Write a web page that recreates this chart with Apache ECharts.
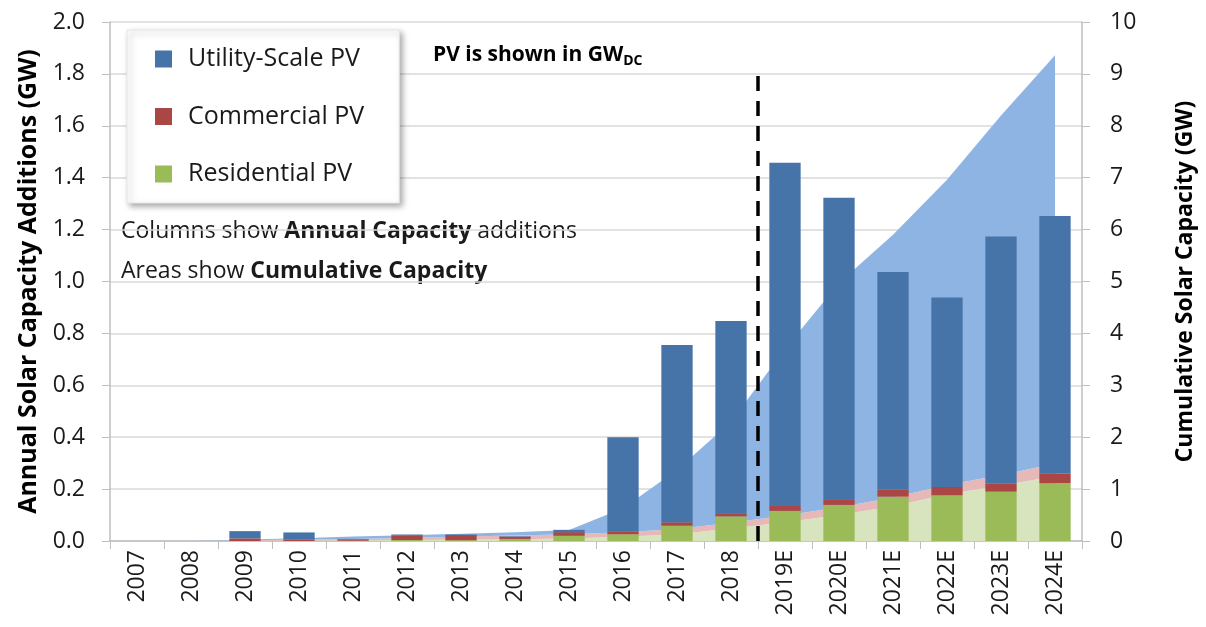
<!DOCTYPE html>
<html lang="en">
<head>
    <meta charset="UTF-8">
    <script src="https://cdn.jsdelivr.net/npm/echarts@6/dist/echarts.min.js"></script>
    <style type="text/css">
        html, body, #main {
            height: 100%;
            width: 100%;
            margin: 0;
            padding: 0;
            background: #fff;
        }
    </style>
    <title>Solar capacity</title>
</head>
<body>
<div id="main"></div>
<script>
    // categories
    var years = ['2007', '2008', '2009', '2010', '2011', '2012', '2013', '2014', '2015',
        '2016', '2017', '2018', '2019E', '2020E', '2021E', '2022E', '2023E', '2024E'];

    // annual additions (GW, left axis)
    var utilAdd = [0, 0, 0.028, 0.028, 0.002, 0.003, 0.002, 0.002, 0.009,
        0.364, 0.683, 0.741, 1.323, 1.162, 0.838, 0.73, 0.951, 0.991];
    var commAdd = [0, 0, 0.01, 0.005, 0.005, 0.018, 0.02, 0.008, 0.014,
        0.01, 0.013, 0.012, 0.019, 0.022, 0.028, 0.032, 0.032, 0.039];
    var resAdd = [0, 0, 0, 0, 0.001, 0.004, 0.003, 0.008, 0.02,
        0.026, 0.059, 0.095, 0.116, 0.139, 0.171, 0.176, 0.19, 0.222];

    // cumulative capacity (GW, right axis), stacked layers
    var resCum = [0, 0, 0.005, 0.01, 0.015, 0.02, 0.025, 0.035, 0.05,
        0.08, 0.13, 0.24, 0.36, 0.5, 0.67, 0.9, 1.07, 1.25];
    var commCum = [0, 0, 0.01, 0.02, 0.025, 0.04, 0.06, 0.07, 0.08,
        0.09, 0.1, 0.11, 0.13, 0.15, 0.17, 0.18, 0.2, 0.24];
    var utilCum = [0, 0, 0.015, 0.025, 0.045, 0.05, 0.055, 0.065, 0.08,
        0.46, 1.14, 1.95, 3.21, 4.32, 5.06, 5.88, 6.93, 7.87];

    // dashed divider between actual and projected years
    var dividerX = 11.5;
    var dividerTop = 9.02;

    var leftTicks = [0, 2, 0.2];
    var rightTicks = [0, 10, 1];

    var font = '"Open Sans", "Noto Sans", sans-serif';
    var grey = '#d9d9d9';

    var myChart = echarts.init(document.getElementById('main'));

    function areaSeries(name, data, color) {
        return {
            name: name,
            type: 'line',
            xAxisIndex: 0,
            yAxisIndex: 1,
            stack: 'cum',
            data: data,
            symbol: 'none',
            lineStyle: {width: 0},
            areaStyle: {color: color, opacity: 1},
            z: 1,
            silent: true
        };
    }

    function barSeries(name, data, color) {
        return {
            name: name,
            type: 'bar',
            xAxisIndex: 0,
            yAxisIndex: 0,
            stack: 'add',
            data: data,
            barWidth: '58%',
            itemStyle: {color: color},
            z: 3
        };
    }

    var option = {
        animation: false,
        textStyle: {fontFamily: font},
        grid: {left: 110, right: 124, top: 22, bottom: 86},
        legend: {
            orient: 'vertical',
            left: 127,
            top: 30,
            data: ['Utility-Scale PV', 'Commercial PV', 'Residential PV'],
            icon: 'rect',
            itemWidth: 17,
            itemHeight: 17,
            itemGap: 29.5,
            padding: [15, 35, 15, 28],
            backgroundColor: '#fff',
            borderColor: '#e6e6e6',
            borderWidth: 1,
            shadowBlur: 6,
            shadowOffsetX: 3,
            shadowOffsetY: 3,
            shadowColor: 'rgba(0,0,0,0.35)',
            textStyle: {fontSize: 25, color: '#1a1a1a', lineHeight: 28, padding: [0, 0, 0, 11]}
        },
        xAxis: [{
            type: 'category',
            data: years,
            boundaryGap: true,
            axisLine: {lineStyle: {color: '#bfbfbf', width: 1.5}},
            axisTick: {show: true, interval: 0, length: 8, lineStyle: {color: '#bfbfbf'}},
            axisLabel: {rotate: 90, fontSize: 23, color: '#1a1a1a', margin: 9, interval: 0}
        }, {
            type: 'value',
            min: -0.5,
            max: 17.5,
            show: false
        }],
        yAxis: [{
            type: 'value',
            min: leftTicks[0],
            max: leftTicks[1],
            interval: leftTicks[2],
            name: 'Annual Solar Capacity Additions (GW)',
            nameLocation: 'middle',
            nameRotate: 90,
            nameGap: 60,
            nameTextStyle: {fontSize: 25, fontWeight: 'bold', color: '#000'},
            axisLine: {show: true, onZero: false, lineStyle: {color: '#bfbfbf', width: 1.5}},
            axisTick: {show: true, length: 8, lineStyle: {color: '#bfbfbf'}},
            axisLabel: {fontSize: 23, color: '#1a1a1a', margin: 25, formatter: function (v) {
                return v.toFixed(1);
            }},
            splitLine: {lineStyle: {color: grey, width: 1.5}}
        }, {
            type: 'value',
            min: rightTicks[0],
            max: rightTicks[1],
            interval: rightTicks[2],
            position: 'right',
            name: 'Cumulative Solar Capacity (GW)',
            nameLocation: 'middle',
            nameRotate: 90,
            nameGap: 92,
            nameTextStyle: {fontSize: 23, fontWeight: 'bold', color: '#000'},
            axisLine: {show: true, onZero: false, lineStyle: {color: '#bfbfbf', width: 1.5}},
            axisTick: {show: true, length: 8, lineStyle: {color: '#bfbfbf'}},
            axisLabel: {fontSize: 23, color: '#1a1a1a', margin: 28},
            splitLine: {show: false}
        }],
        graphic: [{
            type: 'text',
            left: 121,
            top: 220,
            style: {
                rich: {
                    n: {fontSize: 23, fontFamily: font, fill: '#1a1a1a'},
                    b: {fontSize: 23, fontFamily: font, fill: '#1a1a1a', fontWeight: 'bold'}
                },
                text: '{n|Columns show }{b|Annual Capacity}{n| additions}'
            }
        }, {
            type: 'text',
            left: 121,
            top: 260,
            style: {
                rich: {
                    n: {fontSize: 23, fontFamily: font, fill: '#1a1a1a'},
                    b: {fontSize: 23, fontFamily: font, fill: '#1a1a1a', fontWeight: 'bold'}
                },
                text: '{n|Areas show }{b|Cumulative Capacity}'
            }
        }, {
            type: 'text',
            left: 433,
            top: 43,
            style: {
                rich: {
                    b: {fontSize: 21, fontFamily: font, fill: '#000', fontWeight: 'bold', lineHeight: 30},
                    s: {fontSize: 14, fontFamily: font, fill: '#000', fontWeight: 'bold', padding: [11, 0, 0, 0], lineHeight: 30}
                },
                text: '{b|PV is shown in GW}{s|DC}'
            }
        }],
        series: [
            areaSeries('Residential cumulative', resCum, '#d7e4bd'),
            areaSeries('Commercial cumulative', commCum, '#e6b9b8'),
            areaSeries('Utility cumulative', utilCum, '#8eb4e3'),
            barSeries('Residential PV', resAdd, '#9bbb59'),
            barSeries('Commercial PV', commAdd, '#aa4643'),
            barSeries('Utility-Scale PV', utilAdd, '#4674a8'),
            {
                name: 'divider',
                type: 'line',
                xAxisIndex: 1,
                yAxisIndex: 1,
                data: [[dividerX, 0], [dividerX, dividerTop]],
                symbol: 'none',
                lineStyle: {color: '#000', width: 3.5, type: [15, 10]},
                z: 5,
                silent: true
            }
        ]
    };

    myChart.setOption(option);
</script>
</body>
</html>
